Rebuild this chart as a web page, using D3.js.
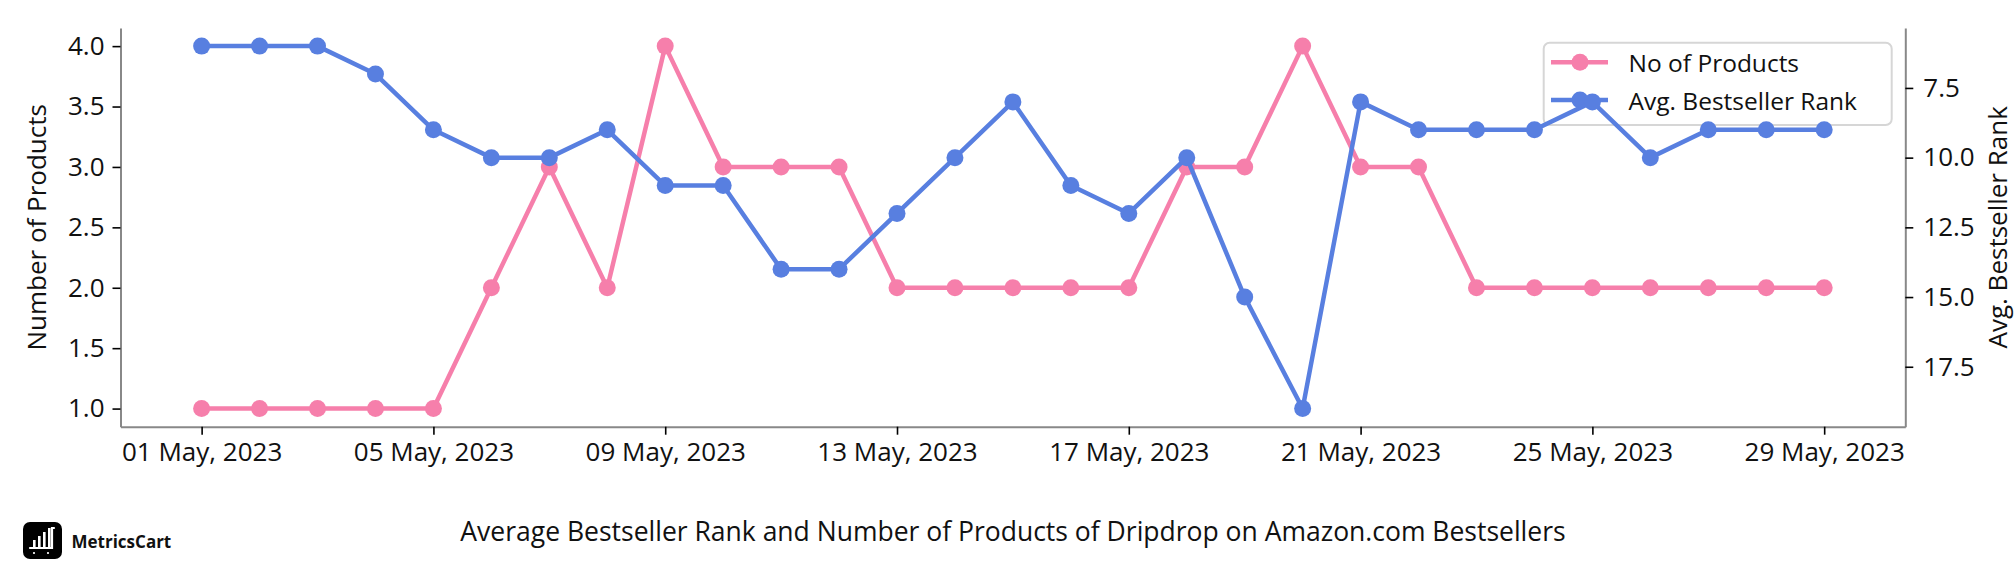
<!DOCTYPE html>
<html>
<head>
<meta charset="utf-8">
<script src="https://cdn.jsdelivr.net/npm/d3@7"></script>
<style>
  html, body { margin: 0; padding: 0; background: #fff; }
  svg { display: block; font-family: "Open Sans", "Noto Sans", sans-serif; }
</style>
</head>
<body>
<div id="chart"></div>
<script>
// data
const dates = ["2023-05-01","2023-05-02","2023-05-03","2023-05-04","2023-05-05","2023-05-06","2023-05-07",
  "2023-05-08","2023-05-09","2023-05-10","2023-05-11","2023-05-12","2023-05-13","2023-05-14","2023-05-15",
  "2023-05-16","2023-05-17","2023-05-18","2023-05-19","2023-05-20","2023-05-21","2023-05-22","2023-05-23",
  "2023-05-24","2023-05-25","2023-05-26","2023-05-27","2023-05-28","2023-05-29"];
const noOfProducts = [1,1,1,1,1,2,3,2,4,3,3,3,2,2,2,2,2,3,3,4,3,3,2,2,2,2,2,2,2];
const avgRank = [6,6,6,7,9,10,10,9,11,11,14,14,12,10,8,11,12,10,15,19,8,9,9,9,8,10,9,9,9];
const leftTicks = [1.0,1.5,2.0,2.5,3.0,3.5,4.0];
const rightTicks = [7.5,10.0,12.5,15.0,17.5];
const xTickDates = ["2023-05-01","2023-05-05","2023-05-09","2023-05-13","2023-05-17","2023-05-21","2023-05-25","2023-05-29"];
const seriesNames = ["No of Products", "Avg. Bestseller Rank"];
const title = "Average Bestseller Rank and Number of Products of Dripdrop on Amazon.com Bestsellers";

const width = 2016, height = 576;
const plot = {left: 120.5, right: 1905.3, top: 28, bottom: 426.7};
const pink = "#f67fab", blue = "#587fe0";

const parse = d3.timeParse("%Y-%m-%d");
const rows = dates.map((d, i) => ({date: parse(d), n: noOfProducts[i], rank: avgRank[i]}));

const svg = d3.select("#chart").append("svg")
  .attr("width", width).attr("height", height)
  .attr("viewBox", `0 0 ${width} ${height}`);

// matplotlib-like 5% margins
const [d0, d1] = d3.extent(rows, d => d.date);
const xPad = (d1 - d0) * 0.05;
const x = d3.scaleTime()
  .domain([new Date(+d0 - xPad), new Date(+d1 + xPad)])
  .range([plot.left, plot.right]);

const nExt = d3.extent(noOfProducts), nPad = (nExt[1] - nExt[0]) * 0.05;
const yL = d3.scaleLinear().domain([nExt[0] - nPad, nExt[1] + nPad]).range([plot.bottom, plot.top]);

const rExt = d3.extent(avgRank), rPad = (rExt[1] - rExt[0]) * 0.05;
const yR = d3.scaleLinear().domain([rExt[0] - rPad, rExt[1] + rPad]).range([plot.top, plot.bottom]);

const fmt1 = d3.format(".1f");
const fontSize = 26;

// axes
const xAxis = svg.append("g")
  .attr("transform", `translate(0,${plot.bottom})`)
  .call(d3.axisBottom(x).tickValues(xTickDates.map(parse)).tickFormat(d3.timeFormat("%d %b, %Y"))
    .tickSize(8).tickPadding(8).tickSizeOuter(0));

const leftAxis = svg.append("g")
  .attr("transform", `translate(${plot.left},0)`)
  .call(d3.axisLeft(yL).tickValues(leftTicks).tickFormat(fmt1).tickSize(8).tickPadding(8).tickSizeOuter(0));

const rightAxis = svg.append("g")
  .attr("transform", `translate(${plot.right},0)`)
  .call(d3.axisRight(yR).tickValues(rightTicks).tickFormat(fmt1).tickSize(8).tickPadding(10).tickSizeOuter(0));

[xAxis, leftAxis, rightAxis].forEach(a => {
  a.select(".domain").attr("stroke", "#888").attr("stroke-width", 2);
  a.selectAll(".tick line").attr("stroke", "#000").attr("stroke-width", 1.6);
  a.selectAll(".tick text").attr("fill", "#111")
    .style("font-size", fontSize + "px").style("font-family", "'Open Sans', sans-serif");
});

// axis titles
svg.append("text")
  .attr("transform", `translate(36,${(plot.top + plot.bottom) / 2}) rotate(-90)`)
  .attr("text-anchor", "middle").attr("dominant-baseline", "central")
  .style("font-size", fontSize + "px").attr("fill", "#111")
  .text("Number of Products");

svg.append("text")
  .attr("transform", `translate(1997,${(plot.top + plot.bottom) / 2}) rotate(-90)`)
  .attr("text-anchor", "middle").attr("dominant-baseline", "central")
  .style("font-size", fontSize + "px").attr("fill", "#111")
  .text("Avg. Bestseller Rank");

function drawSeries(g, key, scale, color) {
  const line = d3.line().x(d => x(d.date)).y(d => scale(d[key]));
  g.append("path").datum(rows)
    .attr("fill", "none").attr("stroke", color).attr("stroke-width", 4.5)
    .attr("stroke-linejoin", "round").attr("d", line);
  g.selectAll("circle").data(rows).join("circle")
    .attr("cx", d => x(d.date)).attr("cy", d => scale(d[key]))
    .attr("r", 8.5).attr("fill", color);
}

// pink series, then legend, then blue on top (as in the reference)
drawSeries(svg.append("g"), "n", yL, pink);

const legend = svg.append("g");
legend.append("rect")
  .attr("x", 1543.7).attr("y", 42.7).attr("width", 348).attr("height", 82.3)
  .attr("rx", 6).attr("fill", "#fff").attr("fill-opacity", 0.8)
  .attr("stroke", "#d6d6d6").attr("stroke-width", 2);
[pink, blue].forEach((c, i) => {
  const cy = 62.3 + i * 37.7;
  legend.append("line").attr("x1", 1551).attr("x2", 1608).attr("y1", cy).attr("y2", cy)
    .attr("stroke", c).attr("stroke-width", 4.5);
  legend.append("circle").attr("cx", 1580).attr("cy", cy).attr("r", 8.5).attr("fill", c);
  legend.append("text").attr("x", 1628.5).attr("y", cy).attr("dominant-baseline", "central")
    .style("font-size", "24.5px").attr("fill", "#111").text(seriesNames[i]);
});

drawSeries(svg.append("g"), "rank", yR, blue);

// title
svg.append("text")
  .attr("x", 1013).attr("y", 541).attr("text-anchor", "middle")
  .style("font-size", "26.5px").attr("fill", "#111")
  .text(title);

// MetricsCart logo
const logo = svg.append("g").attr("transform", "translate(23,522)");
logo.append("rect").attr("width", 39).attr("height", 37).attr("rx", 7).attr("fill", "#000");
[[10, 18], [15, 14], [20, 10], [25, 6]].forEach(([bx, by]) => {
  logo.append("rect").attr("x", bx).attr("y", by).attr("width", 2.6).attr("height", 26 - by).attr("fill", "#fff");
});
logo.append("path").attr("d", "M7 26 H29 V6 H31 M11 31 h0 M25 31 h0")
  .attr("fill", "none").attr("stroke", "#fff").attr("stroke-width", 2.2).attr("stroke-linecap", "round");
svg.append("text").attr("x", 71.5).attr("y", 547.5)
  .style("font-size", "17px").style("font-weight", "bold").attr("fill", "#111")
  .text("MetricsCart");
</script>
</body>
</html>
